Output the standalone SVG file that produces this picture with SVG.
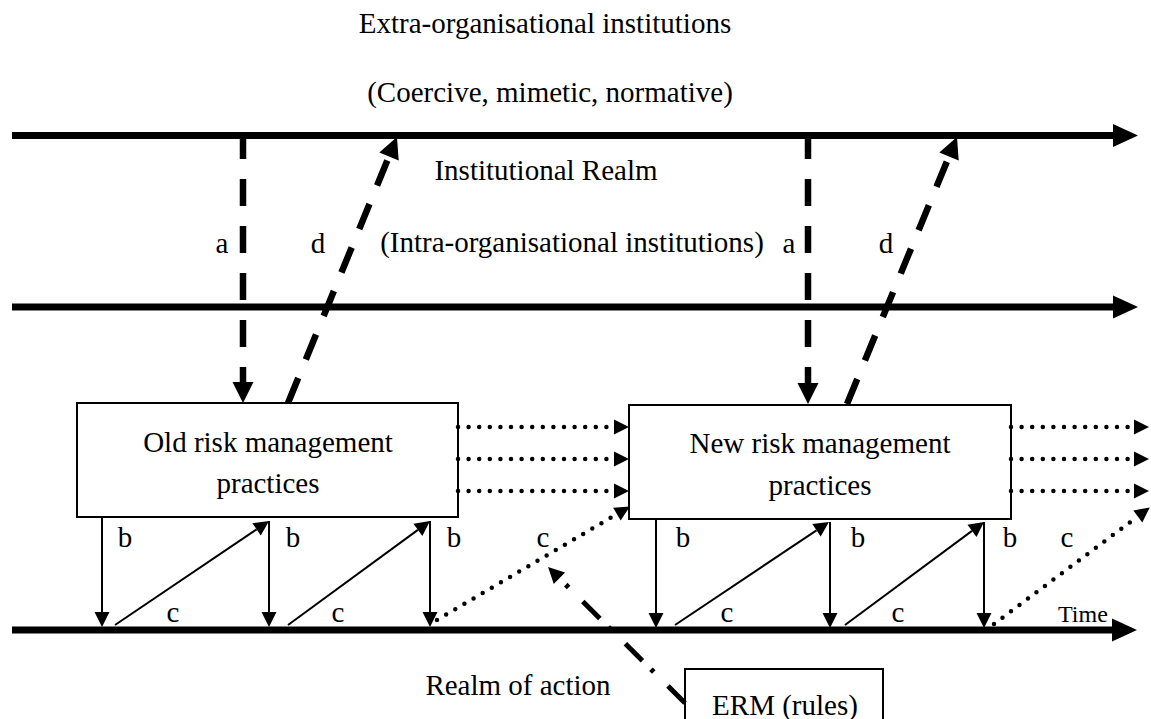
<svg xmlns="http://www.w3.org/2000/svg" width="1151" height="719" viewBox="0 0 1151 719">
  <style>
    text { font-family: "Liberation Serif", "Times New Roman", serif; font-size: 29px; fill: #000; text-anchor: middle; }
    .time { font-size: 24px; text-anchor: start; }
    .box { fill: #fff; stroke: #000; stroke-width: 2; }
    .realm { stroke: #000; stroke-width: 7; fill: none; }
    .dash { stroke: #000; stroke-width: 6.5; fill: none; stroke-dasharray: 27 20; }
    .thin { stroke: #000; stroke-width: 2; fill: none; }
    .dots { stroke: #000; stroke-width: 4.5; fill: none; stroke-linecap: round; stroke-dasharray: 0 10.6; }
    .dashdot { stroke: #000; stroke-width: 5; fill: none; stroke-dasharray: 24 20 4 12; }
  </style>
  <defs>
    <marker id="headRealm" markerUnits="userSpaceOnUse" markerWidth="26" markerHeight="24" refX="0" refY="11.5" orient="auto" overflow="visible">
      <path d="M0,0 L25,11.5 L0,23 z" fill="#000"/>
    </marker>
    <marker id="headDash" markerUnits="userSpaceOnUse" markerWidth="22" markerHeight="22" refX="0" refY="10.5" orient="auto" overflow="visible">
      <path d="M0,0 L21,10.5 L0,21 z" fill="#000"/>
    </marker>
    <marker id="headThin" markerUnits="userSpaceOnUse" markerWidth="16" markerHeight="16" refX="0" refY="7.5" orient="auto" overflow="visible">
      <path d="M0,0 L15,7.5 L0,15 z" fill="#000"/>
    </marker>
    <marker id="headDot" markerUnits="userSpaceOnUse" markerWidth="16" markerHeight="16" refX="0" refY="7.5" orient="auto" overflow="visible">
      <path d="M0,0 L15,7.5 L0,15 z" fill="#000"/>
    </marker>
    <marker id="headRule" markerUnits="userSpaceOnUse" markerWidth="17" markerHeight="17" refX="0" refY="8" orient="auto" overflow="visible">
      <path d="M0,0 L16,8 L0,16 z" fill="#000"/>
    </marker>
  </defs>

  <!-- headings -->
  <g id="labels">
    <text x="545" y="33">Extra-organisational institutions</text>
    <text x="550" y="102">(Coercive, mimetic, normative)</text>
    <text x="546" y="180">Institutional Realm</text>
    <text x="572" y="252">(Intra-organisational institutions)</text>
    <text x="518" y="695">Realm of action</text>
    <text class="time" x="1058" y="622">Time</text>
  </g>

  <!-- time lines (institutional realm and realm of action) -->
  <g id="timelines">
    <line class="realm" x1="12" y1="135.5" x2="1113" y2="135.5" marker-end="url(#headRealm)"/>
    <line class="realm" x1="12" y1="307" x2="1113" y2="307" marker-end="url(#headRealm)"/>
    <line class="realm" x1="12" y1="630" x2="1112" y2="630" marker-end="url(#headRealm)"/>
  </g>

  <g id="old-practices">
    <rect class="box" x="77" y="403" width="381" height="114"/>
    <text x="268" y="452">Old risk management</text>
    <text x="268" y="493">practices</text>
  </g>

  <g id="new-practices">
    <rect class="box" x="629" y="405" width="382" height="114"/>
    <text x="820" y="453">New risk management</text>
    <text x="820" y="495">practices</text>
  </g>

  <g id="erm">
    <rect class="box" x="685" y="669" width="198" height="70"/>
    <text x="785" y="715">ERM (rules)</text>
  </g>

  <g id="connectors">
    <!-- a: encoding, d: institutionalisation -->
    <line class="dash" x1="243" y1="135" x2="243" y2="382" stroke-dashoffset="3" marker-end="url(#headDash)"/>
    <line class="dash" x1="808" y1="135" x2="808" y2="383" stroke-dashoffset="3" marker-end="url(#headDash)"/>
    <line class="dash" x1="288" y1="403" x2="389" y2="156.4" marker-end="url(#headDash)"/>
    <line class="dash" x1="847" y1="404" x2="949" y2="156.4" marker-end="url(#headDash)"/>

    <!-- b: enacting, c: reproduction -->
    <line class="thin" x1="102" y1="518" x2="102" y2="612" marker-end="url(#headThin)"/>
    <line class="thin" x1="269" y1="521" x2="269" y2="612" marker-end="url(#headThin)"/>
    <line class="thin" x1="430" y1="521" x2="430" y2="612" marker-end="url(#headThin)"/>
    <line class="thin" x1="115" y1="625" x2="256.6" y2="529.4" marker-end="url(#headThin)"/>
    <line class="thin" x1="288" y1="625" x2="417.9" y2="529.9" marker-end="url(#headThin)"/>

    <line class="thin" x1="656" y1="520" x2="656" y2="613" marker-end="url(#headThin)"/>
    <line class="thin" x1="830" y1="522" x2="830" y2="613" marker-end="url(#headThin)"/>
    <line class="thin" x1="984" y1="522" x2="984" y2="613" marker-end="url(#headThin)"/>
    <line class="thin" x1="675" y1="625" x2="816.5" y2="530.3" marker-end="url(#headThin)"/>
    <line class="thin" x1="845" y1="625" x2="972" y2="530.9" marker-end="url(#headThin)"/>

    <!-- carried-over practices -->
    <line class="dots" x1="458" y1="427" x2="614" y2="427" marker-end="url(#headDot)"/>
    <line class="dots" x1="458" y1="459" x2="614" y2="459" marker-end="url(#headDot)"/>
    <line class="dots" x1="458" y1="491" x2="614" y2="491" marker-end="url(#headDot)"/>
    <line class="dots" x1="1011" y1="427" x2="1134" y2="427" marker-end="url(#headDot)"/>
    <line class="dots" x1="1011" y1="459" x2="1134" y2="459" marker-end="url(#headDot)"/>
    <line class="dots" x1="1011" y1="491" x2="1134" y2="491" marker-end="url(#headDot)"/>
    <line class="dots" x1="437" y1="620" x2="616.9" y2="514.1" marker-end="url(#headDot)"/>
    <line class="dots" x1="994" y1="624" x2="1137.8" y2="516.4" marker-end="url(#headDot)"/>

    <!-- ERM rules acting on the realm of action -->
    <line class="dashdot" x1="685" y1="703" x2="559.4" y2="578.3" marker-end="url(#headRule)"/>
  </g>

  <g id="connector-labels">
    <text x="222" y="253">a</text>
    <text x="318" y="253">d</text>
    <text x="789" y="253">a</text>
    <text x="886" y="253">d</text>
    <text x="125" y="547">b</text>
    <text x="293" y="547">b</text>
    <text x="454" y="547">b</text>
    <text x="683" y="547">b</text>
    <text x="858" y="547">b</text>
    <text x="1010" y="547">b</text>
    <text x="173" y="622">c</text>
    <text x="338" y="622">c</text>
    <text x="543" y="547">c</text>
    <text x="727" y="622">c</text>
    <text x="898" y="622">c</text>
    <text x="1067" y="547">c</text>
  </g>
</svg>
